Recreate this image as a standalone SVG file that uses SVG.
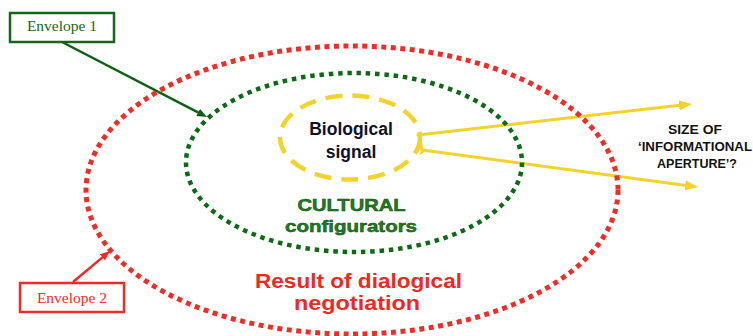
<svg xmlns="http://www.w3.org/2000/svg" width="753" height="336" viewBox="0 0 753 336">
  <style>
    .env { fill: #ffffff; stroke-width: 2.5; }
    .envtxt { font-family: "Liberation Serif", "Times New Roman", serif; font-size: 15.5px; text-anchor: middle; }
    .bold { font-family: "Liberation Sans", Arial, sans-serif; font-weight: bold; text-anchor: middle; }
    .yl { fill: none; stroke: #f3d22c; stroke-width: 3; stroke-linecap: round; stroke-linejoin: round; }
  </style>
  <defs>
    <marker id="ahY" markerUnits="userSpaceOnUse" viewBox="0 -5 13 10" refX="3" refY="0" markerWidth="13" markerHeight="10" orient="auto">
      <path d="M0,-5 L13,0 L0,5 z" fill="#f3d22c"/>
    </marker>
    <marker id="ahG" markerUnits="userSpaceOnUse" viewBox="0 -4 10 8" refX="2" refY="0" markerWidth="10" markerHeight="8" orient="auto">
      <path d="M0,-4 L10,0 L0,4 z" fill="#0f5f14"/>
    </marker>
    <marker id="ahR" markerUnits="userSpaceOnUse" viewBox="0 -4 10 8" refX="2" refY="0" markerWidth="10" markerHeight="8" orient="auto">
      <path d="M0,-4 L10,0 L0,4 z" fill="#ee2b2b"/>
    </marker>
  </defs>
  <rect width="753" height="336" fill="#ffffff"/>

  <g id="connectors">
    <line class="yl" x1="418" y1="135" x2="682.1" y2="105.1" marker-end="url(#ahY)"/>
    <line class="yl" x1="422" y1="150" x2="688.1" y2="185.7" marker-end="url(#ahY)"/>
    <polyline class="yl" points="419,135 422,150"/>
    <path d="M420,147 L424,151 L420,154" fill="none" stroke="#f3d22c" stroke-width="2"/>
    <line x1="62" y1="42" x2="199.9" y2="113.3" stroke="#0f5f14" stroke-width="2.5" marker-end="url(#ahG)"/>
    <line x1="73" y1="282" x2="103.9" y2="256.1" stroke="#ee2b2b" stroke-width="2.5" marker-end="url(#ahR)"/>
  </g>

  <g id="envelope2-ellipse">
    <ellipse cx="352" cy="190" rx="266" ry="144" fill="none" stroke="#ec2f26" stroke-width="5" stroke-dasharray="5 4.5"/>
  </g>
  <g id="envelope1-ellipse">
    <ellipse cx="354" cy="162.5" rx="168" ry="89.5" fill="none" stroke="#0d6a14" stroke-width="4.5" stroke-dasharray="4.5 4.8"/>
  </g>
  <g id="biological-signal">
    <ellipse cx="350" cy="137.5" rx="70" ry="42" fill="none" stroke="#f3d22c" stroke-width="4.5" stroke-dasharray="17 10"/>
    <text class="bold" x="351" y="135" font-size="17.5" fill="#10102a">Biological</text>
    <text class="bold" x="351" y="158" font-size="17.5" fill="#10102a">signal</text>
  </g>
  <g id="cultural-configurators">
    <text class="bold" x="351.5" y="210.5" font-size="17" fill="#1f7d1f" stroke="#0a4a0a" stroke-width="0.5" textLength="108" lengthAdjust="spacingAndGlyphs">CULTURAL</text>
    <text class="bold" x="351" y="231.5" font-size="17" fill="#1f7d1f" stroke="#0a4a0a" stroke-width="0.5" textLength="132" lengthAdjust="spacingAndGlyphs">configurators</text>
  </g>
  <g id="dialogical-negotiation">
    <text class="bold" x="358.5" y="288" font-size="20" fill="#ec2a22" textLength="207" lengthAdjust="spacingAndGlyphs">Result of dialogical</text>
    <text class="bold" x="357" y="310" font-size="20" fill="#ec2a22" textLength="126" lengthAdjust="spacingAndGlyphs">negotiation</text>
  </g>
  <g id="aperture-label">
    <text class="bold" x="695" y="134" font-size="12" fill="#111111" textLength="54" lengthAdjust="spacingAndGlyphs">SIZE OF</text>
    <text class="bold" x="695" y="151" font-size="12" fill="#111111" textLength="114" lengthAdjust="spacingAndGlyphs">‘INFORMATIONAL</text>
    <text class="bold" x="697" y="168" font-size="12" fill="#111111" textLength="80" lengthAdjust="spacingAndGlyphs">APERTURE’?</text>
  </g>
  <g id="envelope1">
    <rect class="env" x="10" y="13" width="104" height="29" stroke="#15661a"/>
    <text class="envtxt" x="62" y="31" fill="#15661a">Envelope 1</text>
  </g>
  <g id="envelope2">
    <rect class="env" x="20" y="283" width="104" height="29" stroke="#ee2b2b"/>
    <text class="envtxt" x="72" y="302.5" fill="#ee2b2b">Envelope 2</text>
  </g>
</svg>
